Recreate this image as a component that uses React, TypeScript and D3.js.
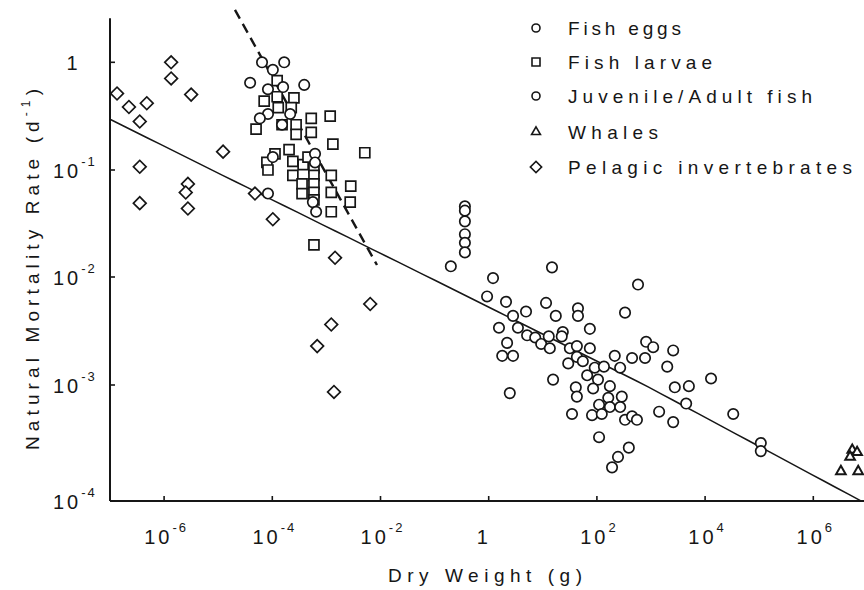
import React from 'react';
import * as d3 from 'd3';

// Data as [log10 dry weight (g), log10 natural mortality rate (d^-1)]
const fishEggs: [number, number][] = [
  [-4.19, 0.0], [-3.99, -0.07], [-3.78, 0.0], [-4.41, -0.19], [-3.41, -0.21],
  [-4.08, -0.25], [-3.8, -0.23], [-4.08, -0.48], [-4.23, -0.52], [-3.67, -0.48],
  [-3.82, -0.58], [-3.99, -0.88], [-4.08, -1.22], [-3.21, -0.85], [-3.21, -0.93],
  [-3.25, -1.3], [-3.19, -1.39],
];

const fishLarvae: [number, number][] = [
  [-3.91, -0.17], [-4.15, -0.36], [-3.91, -0.32], [-3.6, -0.33], [-3.89, -0.42],
  [-3.65, -0.42], [-4.3, -0.62], [-3.82, -0.58], [-3.56, -0.58], [-3.56, -0.67],
  [-3.28, -0.52], [-2.93, -0.5], [-3.28, -0.65], [-2.88, -0.76], [-3.69, -0.81],
  [-2.29, -0.84], [-3.95, -0.85], [-4.1, -0.93], [-4.08, -1.0], [-3.62, -0.92],
  [-3.62, -1.05], [-3.43, -0.95], [-3.45, -1.13], [-3.45, -1.22], [-3.34, -0.88],
  [-2.91, -1.05], [-2.55, -1.15], [-2.91, -1.21], [-2.56, -1.3], [-2.91, -1.39],
  [-3.23, -1.7], [-3.23, -0.98], [-3.23, -1.05], [-3.23, -1.13], [-3.23, -1.21],
  [-3.23, -1.28],
];

const juvenileAdult: [number, number][] = [
  [-0.44, -1.34], [-0.44, -1.38], [-0.44, -1.48], [-0.44, -1.6], [-0.44, -1.68],
  [-0.44, -1.77], [-0.7, -1.9], [0.08, -2.01], [-0.03, -2.18], [1.17, -1.91],
  [0.32, -2.23], [1.06, -2.24], [0.69, -2.32], [0.45, -2.36], [1.24, -2.36],
  [1.65, -2.29], [1.65, -2.36], [0.19, -2.47], [0.54, -2.47], [0.71, -2.54],
  [0.86, -2.56], [0.97, -2.62], [1.11, -2.55], [1.13, -2.66], [1.37, -2.51],
  [1.35, -2.55], [1.5, -2.66], [1.63, -2.64], [1.87, -2.48], [1.87, -2.66],
  [0.34, -2.61], [0.25, -2.73], [0.45, -2.73], [1.47, -2.8], [1.63, -2.74],
  [1.74, -2.78], [1.96, -2.84], [1.82, -2.91], [1.19, -2.95], [0.39, -3.07],
  [1.54, -3.25], [1.61, -3.02], [1.63, -3.1], [2.76, -2.07], [2.52, -2.33],
  [2.91, -2.6], [3.04, -2.65], [3.41, -2.68], [2.33, -2.73], [2.65, -2.75],
  [2.89, -2.75], [2.43, -2.84], [3.3, -2.83], [2.13, -2.83], [2.02, -2.95],
  [1.93, -3.03], [2.24, -3.01], [3.44, -3.02], [3.7, -3.01], [4.11, -2.94],
  [3.65, -3.16], [2.21, -3.11], [2.46, -3.1], [2.04, -3.17], [2.24, -3.19],
  [2.43, -3.19], [1.91, -3.26], [2.09, -3.25], [2.52, -3.3], [2.65, -3.27],
  [2.74, -3.3], [3.15, -3.23], [3.41, -3.32], [2.04, -3.45], [2.59, -3.54],
  [2.39, -3.62], [2.28, -3.71], [4.52, -3.25], [5.03, -3.5], [5.03, -3.57],
];

const whales: [number, number][] = [
  [6.72, -3.56], [6.81, -3.58], [6.68, -3.62], [6.51, -3.745], [6.83, -3.745],
];

const pelagicInvertebrates: [number, number][] = [
  [-5.87, 0.0], [-5.87, -0.15], [-6.87, -0.29], [-6.65, -0.415], [-6.32, -0.38],
  [-6.45, -0.55], [-5.5, -0.3], [-4.91, -0.83], [-6.45, -0.97], [-5.56, -1.13],
  [-5.6, -1.21], [-6.45, -1.31], [-5.56, -1.36], [-4.32, -1.22], [-3.99, -1.46],
  [-2.84, -1.82], [-2.19, -2.25], [-2.91, -2.44], [-3.17, -2.64], [-2.86, -3.06],
];

// Regression: M = 5.26e-3 * W^-0.25
const regCoef = 5.26e-3;
const regExp = -0.25;
const regWRange = [1e-7, 10 ** 6.88];

// Dashed line endpoints [W, M]
const dashedLine: [number, number][] = [
  [10 ** -4.69, 10 ** 0.486],
  [10 ** -2.065, 10 ** -1.888],
];

const xTicks = [1e-6, 1e-4, 1e-2, 1, 1e2, 1e4, 1e6];
const xTickLabels: [string, string][] = [
  ['10', '-6'], ['10', '-4'], ['10', '-2'], ['1', ''], ['10', '2'], ['10', '4'], ['10', '6'],
];
const yTicks = [1e-4, 1e-3, 1e-2, 1e-1, 1];
const yTickLabels: [string, string][] = [
  ['10', '-4'], ['10', '-3'], ['10', '-2'], ['10', '-1'], ['1', ''],
];

const legendItems = [
  { label: 'Fish eggs', shape: 'circle', len: 113 },
  { label: 'Fish larvae', shape: 'square', len: 144 },
  { label: 'Juvenile/Adult fish', shape: 'circle', len: 244 },
  { label: 'Whales', shape: 'triangle', len: 90 },
  { label: 'Pelagic invertebrates', shape: 'diamond', len: 284 },
];

const FONT = '"Liberation Sans", Arial, Helvetica, sans-serif';
const INK = '#161616';

export default function App() {
  const width = 864;
  const height = 590;
  const left = 110;
  const bottom = 501;
  const top = 19.2;
  const x = d3.scaleLog().domain([1e-7, 1e7]).range([left, left + 54.1 * 14]);
  // scanned figure: decades are slightly uneven, so use a piecewise log scale
  const y = d3
    .scaleLog()
    .domain([1e-4, 1e-3, 1e-2, 1e-1, 1, 10 ** 0.4])
    .range([bottom, 385, 277, 170, 62.3, top]);

  const circlePath = d3.symbol().type(d3.symbolCircle).size(Math.PI * 5.2 * 5.2)()!;
  const squarePath = d3.symbol().type(d3.symbolSquare).size(100)()!;
  const diamondPath = d3.symbol().type(d3.symbolSquare).size(81)()!;
  const trianglePath = d3.symbol().type(d3.symbolTriangle).size(40)()!;

  const legCircle = d3.symbol().type(d3.symbolCircle).size(Math.PI * 4 * 4)()!;
  const legSquare = d3.symbol().type(d3.symbolSquare).size(64)()!;
  const legTriangle = d3.symbol().type(d3.symbolTriangle).size(34)()!;
  const legDiamond = d3.symbol().type(d3.symbolSquare).size(64)()!;

  const regLine = d3.line<number>()
    .x((w) => x(w))
    .y((w) => y(regCoef * Math.pow(w, regExp)))
    .curve(d3.curveLinear);
  const regSamples = d3.range(0, 61).map((i) => {
    const lo = Math.log10(regWRange[0]);
    const hi = Math.log10(regWRange[1]);
    return 10 ** (lo + ((hi - lo) * i) / 60);
  });
  const dashLine = d3.line<[number, number]>()
    .x((d) => x(d[0]))
    .y((d) => y(d[1]));

  const pos = (d: [number, number]) => `translate(${x(10 ** d[0])},${y(10 ** d[1])})`;

  const markerStyle = { fill: '#fff', stroke: INK, strokeWidth: 1.7 };

  return (
    <svg
      width={width}
      height={height}
      viewBox={`0 0 ${width} ${height}`}
      style={{ position: 'absolute', left: 0, top: 0, background: '#fff' }}
    >
      <rect x={0} y={0} width={width} height={height} fill="#fff" />
      {/* axes */}
      <line x1={left} y1={top - 1} x2={left} y2={bottom} stroke={INK} strokeWidth={2} />
      <line x1={left} y1={bottom} x2={width} y2={bottom} stroke={INK} strokeWidth={2} />
      {yTicks.map((t, i) => (
        <line key={'yt' + i} x1={left} x2={left + 5} y1={y(t)} y2={y(t)} stroke={INK} strokeWidth={1.6} />
      ))}
      {xTicks.map((t, i) => (
        <line key={'xt' + i} x1={x(t)} x2={x(t)} y1={bottom} y2={bottom - 5} stroke={INK} strokeWidth={1.6} />
      ))}
      {/* tick labels */}
      {yTicks.map((t, i) => {
        const [base, sup] = yTickLabels[i];
        const yy = y(t) + 8;
        if (!sup) {
          return (
            <text key={'yl' + i} x={72} y={yy} fontSize={20} fontFamily={FONT} fill={INK} textAnchor="middle">
              {base}
            </text>
          );
        }
        return (
          <text key={'yl' + i} x={53} y={yy} fontSize={20} fontFamily={FONT} fill={INK} letterSpacing={3}>
            {base}
            <tspan fontSize={13} dy={-12} letterSpacing={2}>{sup}</tspan>
          </text>
        );
      })}
      {xTicks.map((t, i) => {
        const [base, sup] = xTickLabels[i];
        return (
          <text key={'xl' + i} x={x(t) + (sup ? 2 : -5)} y={544} fontSize={20} fontFamily={FONT} fill={INK} textAnchor="middle" letterSpacing={3}>
            {base}
            {sup ? <tspan fontSize={13} dy={-12} letterSpacing={2}>{sup}</tspan> : null}
          </text>
        );
      })}
      {/* axis titles */}
      <text
        transform="translate(39,269.5) rotate(-90)"
        textAnchor="middle"
        fontSize={19}
        fontFamily={FONT}
        fill={INK}
        textLength={361}
        lengthAdjust="spacing"
      >
        Natural Mortality Rate (d
        <tspan fontSize={12} dy={-9}>-1</tspan>
        <tspan dy={9}>)</tspan>
      </text>
      <text
        x={485}
        y={582}
        textAnchor="middle"
        fontSize={19}
        fontFamily={FONT}
        fill={INK}
        textLength={194}
        lengthAdjust="spacing"
      >
        Dry Weight (g)
      </text>
      {/* lines */}
      <path d={regLine(regSamples)!} fill="none" stroke={INK} strokeWidth={1.5} />
      <path d={dashLine(dashedLine)!} fill="none" stroke={INK} strokeWidth={2.4} strokeDasharray="10,6" />
      {/* markers */}
      {pelagicInvertebrates.map((d, i) => (
        <path key={'pi' + i} d={diamondPath} transform={pos(d) + ' rotate(45)'} {...markerStyle} />
      ))}
      {fishLarvae.map((d, i) => (
        <path key={'fl' + i} d={squarePath} transform={pos(d)} {...markerStyle} />
      ))}
      {fishEggs.map((d, i) => (
        <path key={'fe' + i} d={circlePath} transform={pos(d)} {...markerStyle} />
      ))}
      {juvenileAdult.map((d, i) => (
        <path key={'ja' + i} d={circlePath} transform={pos(d)} {...markerStyle} />
      ))}
      {whales.map((d, i) => (
        <path key={'wh' + i} d={trianglePath} transform={pos(d)} fill="#fff" stroke={INK} strokeWidth={2} />
      ))}
      {/* legend */}
      {legendItems.map((it, i) => {
        const cy = [28, 62, 96, 132, 167][i];
        const shape =
          it.shape === 'circle' ? legCircle :
          it.shape === 'square' ? legSquare :
          it.shape === 'triangle' ? legTriangle : legDiamond;
        const rot = it.shape === 'diamond' ? ' rotate(45)' : '';
        return (
          <g key={'lg' + i}>
            <path d={shape} transform={`translate(536,${cy})${rot}`} fill="#fff" stroke={INK} strokeWidth={1.6} />
            <text x={568} y={cy + 7} fontSize={19} fontFamily={FONT} fill={INK} textLength={it.len} lengthAdjust="spacing">
              {it.label}
            </text>
          </g>
        );
      })}
    </svg>
  );
}
